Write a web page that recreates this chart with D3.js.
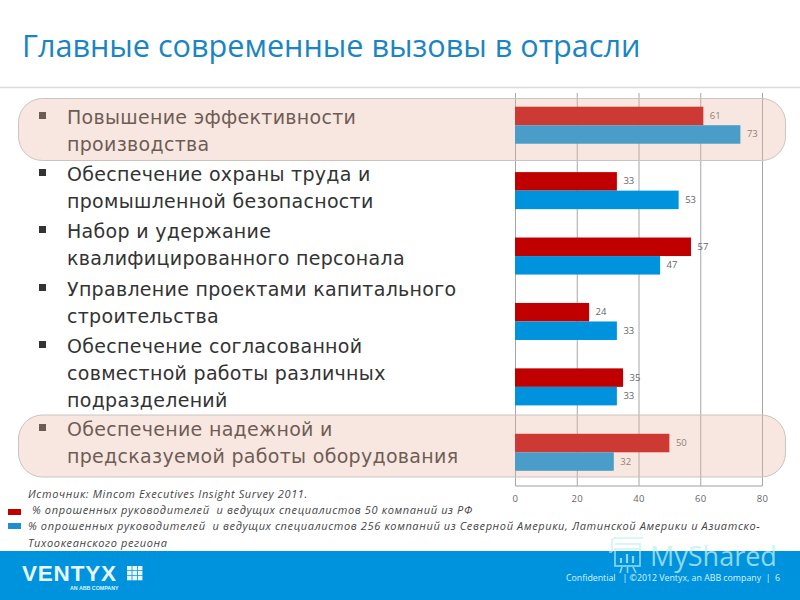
<!DOCTYPE html>
<html><head><meta charset="utf-8"><script src="https://cdn.jsdelivr.net/npm/d3@7"></script>
<style>html,body{margin:0;padding:0;background:#fff}svg{display:block}</style></head><body>
<svg id="c" width="800" height="600"></svg>
<script>
const categories=["a","b","c","d","e","f"];
const seriesRF=[61,33,57,24,35,50];
const seriesWorld=[73,53,47,33,33,32];
const xTicks=[0,20,40,60,80];
const bulletLines=[
 ["Повышение эффективности","производства"],
 ["Обеспечение охраны труда и","промышленной безопасности"],
 ["Набор и удержание","квалифицированного персонала"],
 ["Управление проектами капитального","строительства"],
 ["Обеспечение согласованной","совместной работы различных","подразделений"],
 ["Обеспечение надежной и","предсказуемой работы оборудования"]];
const bulletTops=[124,181,238,296,353,436];
const highlighted=[0,5];
const noteLines=[
 {t:"Источник: Mincom Executives Insight Survey 2011.",x:28,y:498},
 {t:"% опрошенных руководителей  и ведущих специалистов 50 компаний из РФ",x:32,y:514},
 {t:"% опрошенных руководителей  и ведущих специалистов 256 компаний из Северной Америки, Латинской Америки и Азиатско-",x:28,y:530},
 {t:"Тихоокеанского региона",x:28,y:547}];
const title="Главные современные вызовы в отрасли";

const svg=d3.select("#c");
const x=d3.scaleLinear().domain([0,80]).range([515,762]);
const y0=d3.scaleBand().domain(categories).range([92.5,485]);
const y1=d3.scaleBand().domain(["rf","world"]).range([y0.bandwidth()*.217,y0.bandwidth()*.783]);

svg.append("text").text(title).attr("x",22).attr("y",57)
  .attr("font-family","'Open Sans'").attr("font-size",30.6).attr("fill","#1a85c2");
svg.append("line").attr("x1",0).attr("x2",800).attr("y1",87.5).attr("y2",87.5).attr("stroke","#dcdcdc").attr("stroke-width",1.5);

// gridlines + axis
const ax=svg.append("g").attr("transform","translate(0,486)")
  .call(d3.axisBottom(x).tickValues(xTicks).tickSize(-393).tickPadding(9));
ax.select(".domain").attr("stroke","#a0a0a0").attr("d","M515.5,0H762");
ax.selectAll("line").attr("stroke","#a6a6a6");
ax.selectAll("text").attr("font-family","'Open Sans'").attr("font-size",9.5).attr("letter-spacing",.4).attr("fill","#666");

// bars
const g=svg.selectAll("g.grp").data(categories).join("g").attr("class","grp")
  .attr("transform",d=>`translate(0,${y0(d)})`);
g.append("rect").attr("x",x(0)).attr("y",y1("rf")).attr("height",y1.bandwidth())
  .attr("width",(d,i)=>x(seriesRF[i])-x(0)).attr("fill","#c00000");
g.append("rect").attr("x",x(0)).attr("y",y1("world")).attr("height",y1.bandwidth())
  .attr("width",(d,i)=>x(seriesWorld[i])-x(0)).attr("fill","#0093dd");
const lbl=(sel,vals,s)=>sel.append("text").attr("x",(d,i)=>x(vals[i])+6.5).attr("y",y1(s)+y1.bandwidth()/2+3)
  .text((d,i)=>vals[i]).attr("font-family","'Open Sans'").attr("font-size",9.5).attr("fill","#666");
lbl(g,seriesRF,"rf");lbl(g,seriesWorld,"world");

// bullets
const txt=svg.append("g").attr("font-family","'DejaVu Sans'").attr("font-size",19).attr("letter-spacing",.3).attr("fill","#333");
bulletLines.forEach((lines,i)=>{
  txt.append("rect").attr("x",39).attr("y",bulletTops[i]-12).attr("width",7).attr("height",7).attr("fill","#333");
  lines.forEach((l,j)=>txt.append("text").attr("x",67).attr("y",bulletTops[i]+j*27).text(l));
});

// highlight panels
svg.selectAll("rect.hl").data(highlighted).join("rect").attr("class","hl")
  .attr("x",18.5).attr("width",767).attr("rx",24).attr("ry",24)
  .attr("y",d=>d==0?98.5:415).attr("height",62)
  .attr("fill","rgb(232,180,160)").attr("fill-opacity",.32)
  .attr("stroke","#c9c4c0").attr("stroke-width",1);

// notes
svg.append("g").selectAll("text").data(noteLines).join("text").text(d=>d.t).attr("x",d=>d.x).attr("y",d=>d.y)
  .style("white-space","pre")
  .attr("font-family","'Open Sans'").attr("font-style","italic").attr("font-size",11).attr("letter-spacing",.63).attr("fill","#444");
svg.append("rect").attr("x",8).attr("y",509).attr("width",13).attr("height",6).attr("fill","#c00000");
svg.append("rect").attr("x",8).attr("y",523).attr("width",13).attr("height",6).attr("fill","#1f8fd0");

// footer
svg.append("rect").attr("x",0).attr("y",551).attr("width",800).attr("height",49).attr("fill","#0093dd");
svg.append("text").text("VENTYX").attr("x",22).attr("y",581).attr("font-family","'Liberation Sans'").attr("font-weight",700)
  .attr("font-size",22.5).attr("letter-spacing",.8).attr("fill","#e8f7ff");
const gridG=svg.append("g").attr("fill","#e8f7ff");
[0,1,2].forEach(a=>[0,1,2].forEach(b=>gridG.append("rect").attr("x",127+a*5.4).attr("y",566+b*5).attr("width",4.6).attr("height",4.3)));
svg.append("text").text("AN ABB COMPANY").attr("x",70).attr("y",589.5).attr("font-family","'Liberation Sans'").attr("font-weight",700)
  .attr("font-size",5.3).attr("fill","#dff3ff");
svg.append("text").text("Confidential   | ©2012 Ventyx, an ABB company  |  6").attr("x",566).attr("y",581)
  .style("white-space","pre").attr("font-family","'Open Sans'").attr("font-size",8.8).attr("fill","#d8f2ff");
// watermark
svg.append("text").text("MyShared").attr("x",650).attr("y",566).attr("font-family","'Open Sans'").attr("font-size",27)
  .attr("fill","#bfeef0").attr("fill-opacity",.75);
const wm=svg.append("g").attr("fill","none").attr("stroke","#bfeef0").attr("stroke-opacity",.75).attr("stroke-width",1.6);
wm.append("path").attr("d","M612,552V541Q612,538 616,538H643M612,552H609M615,544H640V549");
wm.append("rect").attr("x",615).attr("y",549).attr("width",25).attr("height",17);
wm.append("path").attr("d","M620,573L622,567M627.5,573V567M636,573L633,567");
wm.append("path").attr("d","M621,563V558M627,563V554M633,563V556").attr("stroke-width",2.2);
</script></body></html>
